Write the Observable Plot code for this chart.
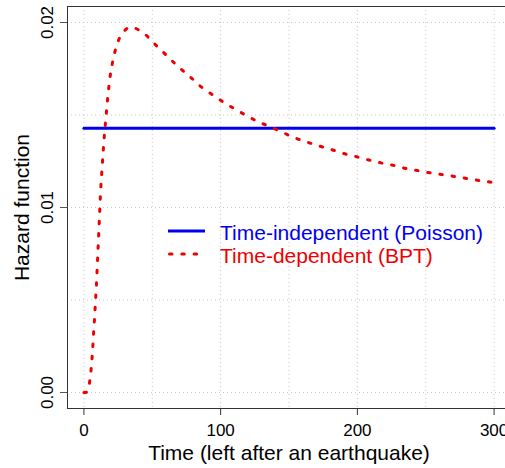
<!DOCTYPE html>
<html>
<head>
<meta charset="utf-8">
<script src="https://cdn.jsdelivr.net/npm/d3@7"></script>
<script src="https://cdn.jsdelivr.net/npm/@observablehq/plot@0.6"></script>
<style>
  html, body { margin: 0; padding: 0; background: white; }
  #wrap { width: 505px; height: 468px; overflow: hidden; position: relative; }
  #wrap svg { max-width: none !important; }
</style>
</head>
<body>
<div id="wrap"></div>
<script>
// ---- data ----
const tBPT = [0, 2, 3, 4.4, 5.4, 6.1, 6.7, 7.2, 7.8, 8.3, 8.8, 9.3, 9.7, 10.1, 10.5, 10.9, 11.3, 11.7, 12.1, 12.6, 13.2, 13.8, 14.4, 15.1, 15.9, 16.7, 17.5, 18.5, 19.7, 21.4, 23.6, 27.2, 33.6, 43.4, 50.4, 57.3, 64.1, 71.4, 78.7, 85.8, 94.5, 102.8, 111.5, 120.1, 128.1, 135.9, 145.1, 153.7, 162.7, 171.4, 180.7, 189.9, 198.7, 207.7, 216.7, 225.7, 234.8, 243.8, 252.7, 261.8, 270.8, 279.8, 288.8, 297.8, 300];
const hBPT = [0, 0.00002, 0.0001, 0.00069, 0.00135, 0.00202, 0.00269, 0.00335, 0.00402, 0.00469, 0.00535, 0.00602, 0.00669, 0.00735, 0.00802, 0.00869, 0.00935, 0.01002, 0.01068, 0.01135, 0.01202, 0.01269, 0.01335, 0.01402, 0.01469, 0.01535, 0.0160, 0.01667, 0.01735, 0.0180, 0.01866, 0.01931, 0.01975, 0.01944, 0.01894, 0.01845, 0.01795, 0.01746, 0.01699, 0.01652, 0.01607, 0.01566, 0.01528, 0.01492, 0.01461, 0.01438, 0.01407, 0.01378, 0.01355, 0.01334, 0.01314, 0.01292, 0.01276, 0.01258, 0.01242, 0.01229, 0.01212, 0.0120, 0.01188, 0.01178, 0.01168, 0.01157, 0.01146, 0.01137, 0.01135];
const tPoisson = [0, 300];
const hPoisson = [0.01429, 0.01429];
const xTicks = [0, 100, 200, 300];
const yTicks = [0, 0.01, 0.02];
const xGrid = [0, 50, 100, 150, 200, 250, 300];
const yGrid = [0, 0.005, 0.01, 0.015, 0.02];
const seriesNames = ["Time-independent (Poisson)", "Time-dependent (BPT)"];
const seriesColors = ["#0000ee", "#ee0000"];
const xLabel = "Time (left after an earthquake)";
const yLabel = "Hazard function";

const bpt = tBPT.map((t, i) => ({t, h: hBPT[i]}));
const poisson = tPoisson.map((t, i) => ({t, h: hPoisson[i]}));

const FONT = "'Liberation Sans', Arial, Helvetica, sans-serif";
const W = 512, H = 468;

const plot = Plot.plot({
  width: W,
  height: H,
  marginLeft: 67,
  marginRight: 2,
  marginTop: 6,
  marginBottom: 60,
  style: {fontFamily: FONT, background: "white", overflow: "visible"},
  x: {domain: [-12, 312], label: null},
  y: {domain: [-0.000865, 0.020865], label: null},
  marks: [
    Plot.ruleX(xGrid, {stroke: "#c8c8c8", strokeWidth: 1, strokeDasharray: "1,3"}),
    Plot.ruleY(yGrid, {stroke: "#c8c8c8", strokeWidth: 1, strokeDasharray: "1,3"}),
    Plot.line(poisson, {x: "t", y: "h", stroke: seriesColors[0], strokeWidth: 3}),
    Plot.line(bpt, {x: "t", y: "h", stroke: seriesColors[1], strokeWidth: 3,
      strokeDasharray: "2.5,9.8", strokeLinecap: "round", curve: "catmull-rom"}),
    Plot.frame({stroke: "#333", strokeWidth: 1}),
    Plot.axisX(xTicks, {tickSize: 7, text: null, label: null, stroke: "#333"}),
    Plot.axisY(yTicks, {tickSize: 7, text: null, label: null, stroke: "#555"}),
    Plot.text(xTicks, {x: d => d, frameAnchor: "bottom", dy: 27, lineAnchor: "bottom",
      text: d => String(d), fontSize: 17, fill: "black"}),
    Plot.text(yTicks, {y: d => d, frameAnchor: "left", dx: -14.5, rotate: -90, lineAnchor: "bottom",
      textAnchor: "middle", text: d => d3.format(".2f")(d), fontSize: 17, fill: "black"}),
    Plot.text([xLabel], {frameAnchor: "bottom", dy: 51, lineAnchor: "bottom", text: d => d,
      fontSize: 21, fill: "black"}),
    Plot.text([yLabel], {frameAnchor: "left", dx: -39, rotate: -90, lineAnchor: "bottom",
      textAnchor: "middle", text: d => d, fontSize: 21, fill: "black"})
  ]
});

// legend
const svg = d3.select(plot);
const lg = svg.append("g").attr("font-family", FONT).attr("font-size", 21).attr("text-anchor", "start");
const rows = [231, 254];
seriesNames.forEach((name, i) => {
  const y = rows[i];
  const ln = lg.append("line").attr("x1", 168).attr("x2", 205).attr("y1", y).attr("y2", y)
    .attr("stroke", seriesColors[i]).attr("stroke-width", 3);
  if (i === 1) ln.attr("stroke-dasharray", "2.5,9.8").attr("stroke-linecap", "round").attr("x1", 169.5);
  lg.append("text").attr("x", 220).attr("y", y + 8.5).attr("text-anchor", "start")
    .attr("fill", seriesColors[i]).text(name);
});

document.getElementById("wrap").appendChild(plot);
</script>
</body>
</html>
